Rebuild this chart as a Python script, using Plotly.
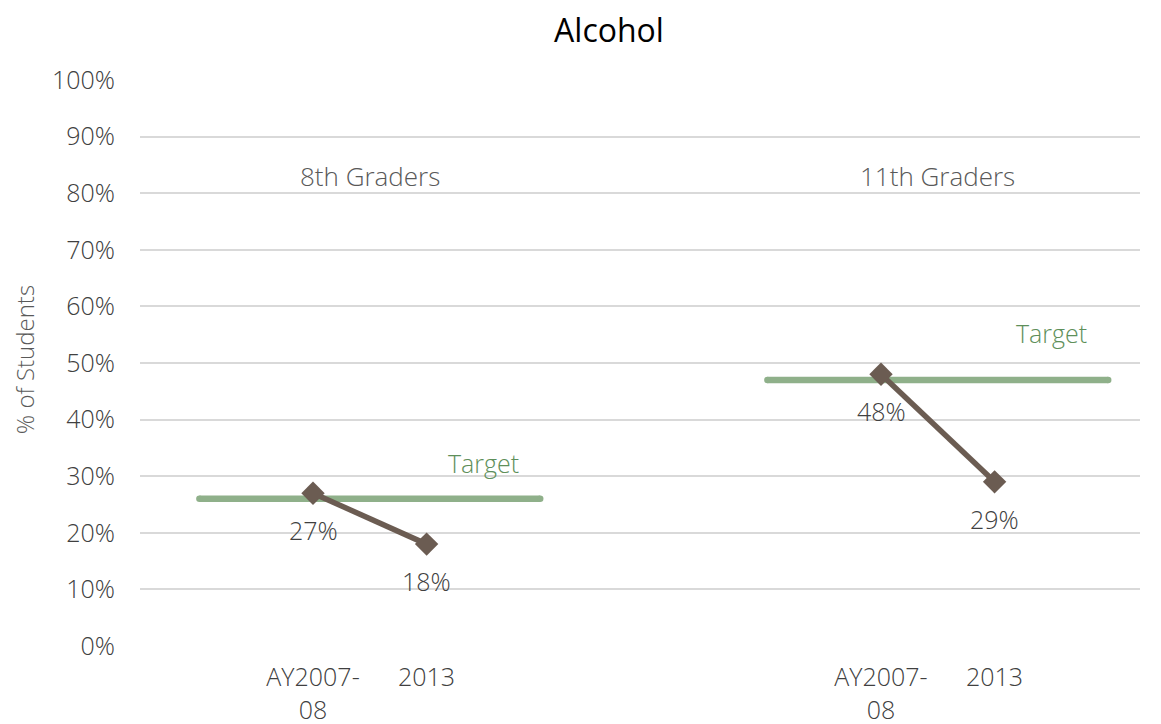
import plotly.graph_objects as go

# ---- data ----
groups = ["8th Graders", "11th Graders"]
periods = ["AY2007-<br>08", "2013"]
values_8th = [27, 18]
values_11th = [48, 29]
targets = [26, 47]
x_8th = [1.5, 2.5]
x_11th = [6.5, 7.5]
target_span_8th = [0.5, 3.5]
target_span_11th = [5.5, 8.5]
group_centers = [2.0, 7.0]
group_label_y = [83, 83]
target_label_x = [3.0, 8.0]
target_label_y = [32.3, 55.3]
y_ticks = list(range(0, 101, 10))

FONT = "Open Sans"
LINE_C = "#6b5c52"
TARGET_C = "#8fb08a"
TARGET_TXT = "#5e8f5a"
AXIS_TXT = "#404040"
GROUP_TXT = "#595959"

fig = go.Figure()

# target lines (circle markers at ends mimic round caps)
for span, t in zip([target_span_8th, target_span_11th], targets):
    fig.add_trace(go.Scatter(
        x=span, y=[t, t], mode="lines+markers",
        line=dict(color=TARGET_C, width=6.5),
        marker=dict(symbol="circle", size=6.5, color=TARGET_C),
        hoverinfo="skip", showlegend=False))

# data series
for xs, vals in zip([x_8th, x_11th], [values_8th, values_11th]):
    fig.add_trace(go.Scatter(
        x=xs, y=vals, mode="lines+markers",
        line=dict(color=LINE_C, width=5.5),
        marker=dict(symbol="diamond", size=18, color=LINE_C),
        showlegend=False))

annotations = []
for xs, vals in zip([x_8th, x_11th], [values_8th, values_11th]):
    for x, v in zip(xs, vals):
        annotations.append(dict(
            x=x, y=v, xref="x", yref="y", text=f"{v}%", showarrow=False,
            yshift=-37, font=dict(family=FONT, size=25, color=AXIS_TXT, weight=300)))
for g, gx, gy in zip(groups, group_centers, group_label_y):
    annotations.append(dict(
        x=gx, y=gy, xref="x", yref="y", text=g, showarrow=False,
        font=dict(family=FONT, size=26, color=GROUP_TXT, weight=300)))
for tx, ty in zip(target_label_x, target_label_y):
    annotations.append(dict(
        x=tx, y=ty, xref="x", yref="y", text="Target", showarrow=False,
        font=dict(family=FONT, size=25, color=TARGET_TXT, weight=300)))
# y-axis title
annotations.append(dict(
    x=-0.116, y=0.505, xref="paper", yref="paper", text="% of Students",
    textangle=-90, showarrow=False, xanchor="center", yanchor="middle",
    font=dict(family=FONT, size=24, color=GROUP_TXT, weight=300)))

tickvals = x_8th + x_11th
ticktext = periods + periods

fig.update_layout(
    width=1153, height=716,
    margin=dict(l=132, r=21, t=72, b=78),
    paper_bgcolor="white", plot_bgcolor="white",
    font=dict(family=FONT, color=AXIS_TXT, weight=300),
    title=dict(text="Alcohol", x=0.469, xref="paper", xanchor="center",
               y=0.968, yref="container", yanchor="middle",
               font=dict(family=FONT, size=32, color="#000000", weight=400)),
    annotations=annotations,
    xaxis=dict(range=[-0.023, 8.78], tickvals=tickvals, ticktext=ticktext,
               showgrid=False, zeroline=False, showline=False, ticks="",
               tickfont=dict(family=FONT, size=25, color=AXIS_TXT, weight=300),
               ticklabelstandoff=14, automargin=False, fixedrange=True),
    yaxis=dict(range=[0, 100], tickvals=y_ticks,
               ticktext=[f"{v}%" for v in y_ticks],
               showgrid=True, gridcolor="#d9d9d9", gridwidth=1.5,
               zeroline=False, showline=False, ticks="",
               tickfont=dict(family=FONT, size=25, color=AXIS_TXT, weight=300),
               ticklabelstandoff=24, automargin=False,
               fixedrange=True),
)

fig.write_html("out.html")
